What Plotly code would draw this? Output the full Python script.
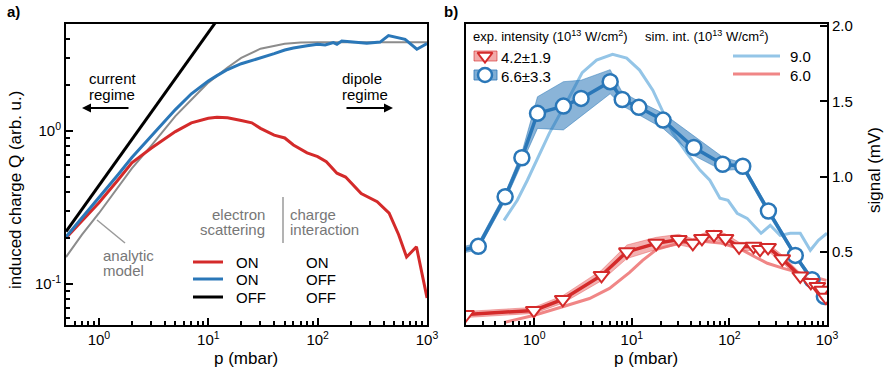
import plotly.graph_objects as go

# ---------------- panel a: simulated induced charge ----------------
a_gray_p = [0.5, 0.7, 1, 1.5, 2, 3, 5, 7, 10, 15, 20, 30, 50, 70, 100, 1000]
a_gray_q = [0.15, 0.21, 0.29, 0.43, 0.57, 0.80, 1.25, 1.6, 2.07, 2.6, 3.0, 3.45, 3.72, 3.78, 3.8, 3.8]

a_black_p = [0.5, 12]
a_black_q = [0.22, 5.28]

a_blue_p = [0.5, 0.7, 1, 1.5, 2, 3, 5, 7, 10, 12, 15, 20, 25, 30, 40, 50, 60, 80, 100,
            117, 139, 150, 166, 198, 244, 281, 372, 444, 630, 807, 1000]
a_blue_q = [0.203, 0.27, 0.37, 0.52, 0.67, 0.92, 1.38, 1.75, 2.12, 2.3, 2.52, 2.75, 2.88, 3.0, 3.2,
            3.38, 3.48, 3.6, 3.68, 3.65, 3.78, 3.69, 3.87, 3.83, 3.78, 3.74, 3.81, 4.2, 3.97, 3.42, 3.73]

a_red_p = [0.5, 0.7, 1, 1.5, 2, 3, 5, 7, 10, 12, 15, 20, 25, 30, 40, 50, 60, 80, 100, 120,
           150, 180, 250, 350, 450, 550, 650, 800, 1000]
a_red_q = [0.20, 0.26, 0.34, 0.48, 0.62, 0.77, 0.99, 1.13, 1.21, 1.23, 1.22, 1.17, 1.13, 1.04, 0.94,
           0.90, 0.81, 0.72, 0.68, 0.63, 0.53, 0.50, 0.39, 0.345, 0.29, 0.21, 0.15, 0.175, 0.081]

# ---------------- panel b: measured signal ----------------
b_blue_p = [0.15, 0.267, 0.503, 0.747, 1.08, 1.99, 3.02, 6.0, 7.97, 11.8, 20.9, 43.2, 85.3, 137,
            251, 473, 703, 940]
b_blue_s = [0.50, 0.537, 0.866, 1.125, 1.42, 1.468, 1.519, 1.63, 1.512, 1.46, 1.375, 1.193, 1.082,
            1.069, 0.772, 0.477, 0.316, 0.205]
b_blue_hi = [0.52, 0.56, 0.89, 1.16, 1.53, 1.63, 1.64, 1.71, 1.56, 1.50, 1.42, 1.27, 1.13, 1.09,
             0.79, 0.49, 0.33, 0.22]
b_blue_lo = [0.48, 0.515, 0.84, 1.09, 1.32, 1.31, 1.40, 1.55, 1.47, 1.41, 1.32, 1.14, 1.04, 1.05,
             0.75, 0.46, 0.30, 0.19]

b_red_p = [0.2, 0.99, 1.96, 4.89, 8.9, 17.8, 30.3, 42.2, 52.3, 69.5, 91.2, 125.6, 177, 206, 249,
           348, 532, 683, 796, 897, 975]
b_red_s = [0.085, 0.112, 0.185, 0.344, 0.501, 0.557, 0.582, 0.557, 0.590, 0.615, 0.590, 0.534,
           0.537, 0.517, 0.53, 0.454, 0.341, 0.298, 0.271, 0.245, 0.20]
b_red_err = [0.02, 0.02, 0.025, 0.035, 0.045, 0.04, 0.035, 0.03, 0.03, 0.03, 0.03, 0.03, 0.025,
             0.025, 0.025, 0.025, 0.02, 0.02, 0.02, 0.02, 0.02]

sim9_p = [0.49, 0.67, 0.85, 1.43, 2.29, 3.1, 4.35, 6.35, 8.85, 12, 16.4, 20.7, 26.3, 36.6, 49.9, 63,
          80, 96.8, 120, 152, 211, 262, 331, 420, 532, 675, 816, 1000]
sim9_s = [0.71, 0.843, 0.976, 1.289, 1.528, 1.69, 1.774, 1.812, 1.787, 1.707, 1.574, 1.428, 1.289,
          1.156, 1.043, 0.976, 0.856, 0.843, 0.757, 0.723, 0.624, 0.677, 0.61, 0.624, 0.624, 0.511,
          0.577, 0.624]

sim6_p = [0.49, 0.98, 1.99, 3.68, 5.9, 9.5, 12.9, 18, 31, 50, 80, 129, 192, 245, 358, 535, 800, 985]
sim6_s = [0.032, 0.078, 0.138, 0.191, 0.258, 0.364, 0.444, 0.517, 0.56, 0.572, 0.56, 0.52, 0.46,
          0.425, 0.391, 0.358, 0.324, 0.311]

RED = '#d42a2a'
BLUE = '#2a77b8'
LBLUE = '#94c5e7'
LRED = '#f08686'
GRAY = '#8c8c8c'
TGRAY = '#777777'
FONT = 'Liberation Sans, Arial, sans-serif'

fig = go.Figure()

# panel a
fig.add_trace(go.Scatter(x=a_gray_p, y=a_gray_q, mode='lines', line=dict(color=GRAY, width=2),
                         xaxis='x', yaxis='y'))
fig.add_trace(go.Scatter(x=a_red_p, y=a_red_q, mode='lines', line=dict(color=RED, width=3),
                         xaxis='x', yaxis='y'))
fig.add_trace(go.Scatter(x=a_blue_p, y=a_blue_q, mode='lines', line=dict(color=BLUE, width=3),
                         xaxis='x', yaxis='y'))
fig.add_trace(go.Scatter(x=a_black_p, y=a_black_q, mode='lines', line=dict(color='black', width=3),
                         xaxis='x', yaxis='y'))

# panel b - simulations
fig.add_trace(go.Scatter(x=sim9_p, y=sim9_s, mode='lines', line=dict(color=LBLUE, width=3),
                         xaxis='x2', yaxis='y2'))
fig.add_trace(go.Scatter(x=sim6_p, y=sim6_s, mode='lines', line=dict(color=LRED, width=3),
                         xaxis='x2', yaxis='y2'))

# panel b - blue experiment
fig.add_trace(go.Scatter(x=b_blue_p + b_blue_p[::-1], y=b_blue_hi + b_blue_lo[::-1],
                         fill='toself', fillcolor='rgba(42,119,184,0.55)',
                         line=dict(color='rgba(42,119,184,0.5)', width=1), mode='lines',
                         xaxis='x2', yaxis='y2'))
fig.add_trace(go.Scatter(x=b_blue_p, y=b_blue_s, mode='lines+markers',
                         line=dict(color=BLUE, width=3.5),
                         marker=dict(symbol='circle', size=15, color='white',
                                     line=dict(color=BLUE, width=2.5)),
                         xaxis='x2', yaxis='y2'))

# panel b - red experiment
red_hi = [s + e for s, e in zip(b_red_s, b_red_err)]
red_lo = [s - e for s, e in zip(b_red_s, b_red_err)]
fig.add_trace(go.Scatter(x=b_red_p + b_red_p[::-1], y=red_hi + red_lo[::-1],
                         fill='toself', fillcolor='rgba(232,100,100,0.5)',
                         line=dict(color='rgba(232,100,100,0.5)', width=1), mode='lines',
                         xaxis='x2', yaxis='y2'))
fig.add_trace(go.Scatter(x=b_red_p, y=b_red_s, mode='lines+markers',
                         line=dict(color=RED, width=3.5),
                         marker=dict(symbol='triangle-down', size=14, color='white',
                                     line=dict(color=RED, width=2)),
                         xaxis='x2', yaxis='y2'))

# legend glyphs on an overlay axis in pixel units
fig.add_trace(go.Scatter(x=[485], y=[56], mode='markers',
                         marker=dict(symbol='triangle-down', size=13, color='white',
                                     line=dict(color=RED, width=2)),
                         xaxis='x3', yaxis='y3'))
fig.add_trace(go.Scatter(x=[485], y=[75], mode='markers',
                         marker=dict(symbol='circle', size=14, color='white',
                                     line=dict(color=BLUE, width=2.5)),
                         xaxis='x3', yaxis='y3'))

minor_x = [v * m for m in (0.1, 1, 10, 100) for v in range(2, 10)]
minor_ya = [0.06, 0.07, 0.08, 0.09, 0.2, 0.3, 0.4, 0.5, 0.6, 0.7, 0.8, 0.9, 2, 3, 4, 5]

axis_common = dict(showline=True, linecolor='black', linewidth=2, mirror=True, ticks='inside',
                   ticklen=7, tickwidth=1.5, tickcolor='black', showgrid=False, zeroline=False,
                   automargin=False, tickfont=dict(family=FONT, size=15, color='black'))

dec_vals = [1, 10, 100, 1000]
dec_text = ['10<sup>0</sup>', '10<sup>1</sup>', '10<sup>2</sup>', '10<sup>3</sup>']

fig.update_layout(
    width=886, height=372,
    margin=dict(l=0, r=0, t=0, b=0),
    paper_bgcolor='white', plot_bgcolor='rgba(0,0,0,0)',
    showlegend=False,
    font=dict(family=FONT, size=15, color='black'),
    xaxis=dict(axis_common, type='log', range=[-0.301, 3], domain=[0.0745, 0.482], anchor='y',
               tickvals=dec_vals, ticktext=dec_text,
               minor=dict(tickvals=minor_x, ticks='inside', ticklen=4, tickcolor='black')),
    yaxis=dict(axis_common, type='log', range=[-1.268, 0.699], domain=[0.1263, 0.9355], anchor='x',
               tickvals=[0.1, 1], ticktext=['10<sup>-1</sup>', '10<sup>0</sup>'],
               minor=dict(tickvals=minor_ya, ticks='inside', ticklen=4, tickcolor='black')),
    xaxis2=dict(axis_common, type='log', range=[-0.699, 3], domain=[0.526, 0.9334], anchor='y2',
                tickvals=dec_vals, ticktext=dec_text,
                minor=dict(tickvals=minor_x, ticks='inside', ticklen=4, tickcolor='black')),
    yaxis2=dict(axis_common, range=[0.015, 2.013], domain=[0.1263, 0.9355], anchor='x2',
                side='right', tickvals=[0.5, 1.0, 1.5, 2.0], ticktext=['0.5', '1.0', '1.5', '2.0']),
    xaxis3=dict(domain=[0, 1], range=[0, 886], visible=False, anchor='y3', fixedrange=True),
    yaxis3=dict(domain=[0, 1], range=[372, 0], visible=False, anchor='x3', fixedrange=True),
)

shapes = []


def seg(x0, y0, x1, y1, color, width):
    shapes.append(dict(type='line', xref='x3', yref='y3', x0=x0, y0=y0, x1=x1, y1=y1,
                       line=dict(color=color, width=width)))


# panel a legend and notes
seg(193, 262, 223, 262, RED, 3)
seg(193, 279, 223, 279, BLUE, 3)
seg(193, 297, 223, 297, 'black', 3)
seg(283, 197, 283, 243, '#9a9a9a', 1.5)
seg(97, 220, 125, 243, '#9a9a9a', 1.5)
# panel b legend
seg(733, 56, 780, 56, LBLUE, 3)
seg(733, 74, 780, 74, LRED, 3)
shapes.append(dict(type='rect', xref='x3', yref='y3', x0=474, y0=51, x1=497, y1=61,
                   fillcolor='rgba(232,100,100,0.55)', line=dict(color='rgba(212,42,42,0.6)', width=1),
                   layer='below'))
shapes.append(dict(type='rect', xref='x3', yref='y3', x0=474, y0=70, x1=497, y1=80,
                   fillcolor='rgba(42,119,184,0.6)', line=dict(color='rgba(42,119,184,0.8)', width=1),
                   layer='below'))

annotations = []


def txt(x, y, s, xanchor='left', color='black', size=15, **kw):
    annotations.append(dict(x=x, y=y, xref='x3', yref='y3', text=s, showarrow=False,
                            xanchor=xanchor, yanchor='middle',
                            font=dict(family=FONT, size=size, color=color), **kw))


txt(5, 11, '<b>a)</b>', size=15)
txt(442, 11, '<b>b)</b>', size=15)
txt(87, 78, 'current')
txt(87, 94, 'regime')
txt(340, 78, 'dipole')
txt(340, 94, 'regime')
txt(101, 255, 'analytic', color=TGRAY)
txt(101, 270, 'model', color=TGRAY)
txt(267, 214, 'electron', xanchor='right', color=TGRAY)
txt(267, 229, 'scattering', xanchor='right', color=TGRAY)
txt(288, 214, 'charge', color=TGRAY)
txt(288, 229, 'interaction', color=TGRAY)
for yy, c1, c2 in [(262, 'ON', 'ON'), (279, 'ON', 'OFF'), (297, 'OFF', 'OFF')]:
    txt(234, yy, c1)
    txt(304, yy, c2)
txt(246, 358, 'p (mbar)', xanchor='center', size=17)
txt(646, 358, 'p (mbar)', xanchor='center', size=17)
txt(15, 190, 'induced charge Q (arb. u.)', xanchor='center', size=17, textangle=-90)
txt(874, 170, 'signal (mV)', xanchor='center', size=17, textangle=-90)
txt(471, 36, 'exp. intensity (10<sup>13</sup> W/cm<sup>2</sup>)', size=13)
txt(643, 36, 'sim. int. (10<sup>13</sup> W/cm<sup>2</sup>)', size=13)
txt(499, 57, '4.2±1.9')
txt(499, 76, '6.6±3.3')
txt(788, 56, '9.0')
txt(788, 75, '6.0')

for x0, x1 in [(130, 82), (345, 393)]:
    annotations.append(dict(x=x1, y=108, ax=x0, ay=108, xref='x3', yref='y3', axref='x3',
                            ayref='y3', text='', showarrow=True, arrowhead=2, arrowsize=1,
                            arrowwidth=1.8, arrowcolor='black'))

fig.update_layout(shapes=shapes, annotations=annotations)

# the page body has a default 8px margin; drop it so the figure fills the window
fig.write_html("out.html", config={'displayModeBar': False},
               post_script="document.body.style.margin='0';")
